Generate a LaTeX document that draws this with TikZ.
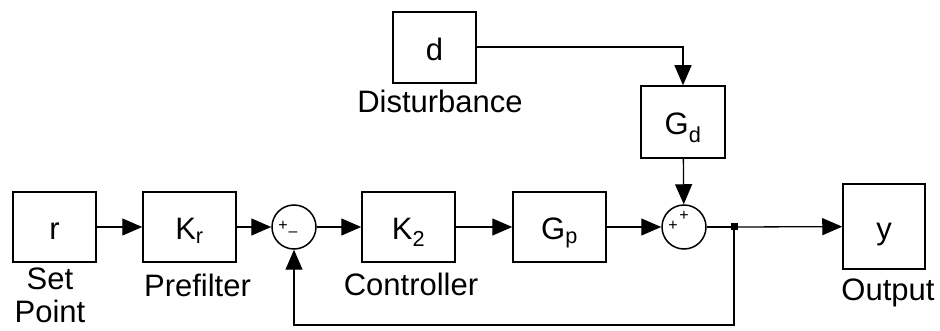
\documentclass[tikz,border=0pt]{standalone}
\usepackage{fontspec}
\setmainfont{Liberation Sans}
\usetikzlibrary{arrows.meta}
\begin{document}
\begin{tikzpicture}[x=1pt,y=-1pt,
  blk/.style={draw,line width=1.5pt,inner sep=0pt,minimum height=70pt,text height=26pt,text depth=0pt,font=\fontsize{31}{37}\selectfont},
  sumc/.style={draw,circle,line width=1.5pt,minimum size=44pt,inner sep=0pt},
  lbl/.style={inner sep=0pt,font=\fontsize{31}{36}\selectfont},
  sgn/.style={inner sep=0pt,font=\fontsize{16}{16}\selectfont},
  jct/.style={fill,inner sep=0pt,minimum size=7pt},
  conn/.style={line width=1.3pt},
  arr/.style={conn,-{Triangle[length=20pt,width=17pt]}}]
\useasboundingbox (0,0) rectangle (940,331);
% blocks
\node[blk,minimum width=83pt] (r) at (54.5,227) {r};
\node[blk,minimum width=93pt] (kr) at (189.5,227) {K\textsubscript{r}};
\node[sumc] (s1) at (294,227) {};
\node[blk,minimum width=93pt] (k2) at (408.5,227) {K\textsubscript{2}};
\node[blk,minimum width=93pt] (gp) at (559.5,227) {G\textsubscript{p}};
\node[sumc] (s2) at (684,227) {};
\node[blk,minimum width=82pt,minimum height=85pt] (y) at (884,226.5) {y};
\node[blk,minimum width=83pt,minimum height=71pt] (d) at (434.5,47.5) {d};
\node[blk,minimum width=84pt,minimum height=72pt] (gd) at (683,122) {G\textsubscript{d}};
% signs
\node[sgn] (p1) at (283,226) {+};
\node[sgn] (m1) at (293,234) {\textendash};
\node[sgn] (p2) at (684,216) {+};
\node[sgn] (p3) at (673,226) {+};
% labels
\node[lbl,anchor=base] (lsp1) at (50,290) {Set};
\node[lbl,anchor=base] (lsp2) at (50,322) {Point};
\node[lbl,anchor=base] (lpf) at (197.5,296) {Prefilter};
\node[lbl,anchor=base] (lct) at (411,295) {Controller};
\node[lbl,anchor=base] (lout) at (888,300) {Output};
\node[lbl,anchor=base] (ldist) at (440,113) {Disturbance};
% junction
\node[jct] (j) at (734,227) {};
\coordinate (fb1) at (734,325);
\coordinate (fb2) at (294,325);
\coordinate (dc) at (683,47);
% connectors
\draw[arr] (r) -- (kr);
\draw[arr] (kr) -- (s1);
\draw[arr] (s1) -- (k2);
\draw[arr] (k2) -- (gp);
\draw[arr] (gp) -- (s2);
\draw[conn] (s2) -- (j.center);
\draw[arr] (j.center) -- (y);
\draw[arr] (j.center) -- (fb1) -- (fb2) -- (s1);
\draw[arr] (d.east |- dc) -- (dc) -- (gd);
\draw[arr] (gd) -- (s2);
\end{tikzpicture}
\end{document}
